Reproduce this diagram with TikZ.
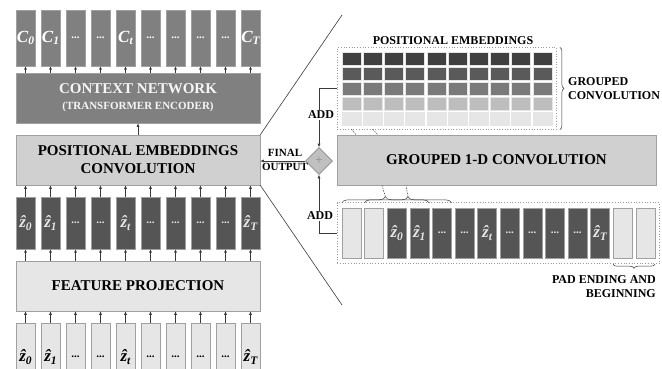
\documentclass[tikz,border=0pt]{standalone}
\usepackage{fontspec}
\setmainfont{Liberation Serif}
\usetikzlibrary{arrows.meta,decorations.pathreplacing,shapes.geometric,fit,calc}
\definecolor{cgray}{HTML}{808080}
\definecolor{dgray}{HTML}{555555}
\definecolor{lgray}{HTML}{E6E6E6}
\definecolor{mgray}{HTML}{D0D0D0}
\definecolor{edgec}{HTML}{A0A0A0}
\definecolor{linec}{HTML}{3A3A3A}
\definecolor{rowa}{HTML}{404040}
\definecolor{rowb}{HTML}{5A5A5A}
\definecolor{rowc}{HTML}{7A7A7A}
\definecolor{rowd}{HTML}{BDBDBD}
\definecolor{rowe}{HTML}{E6E6E6}
\definecolor{diafill}{HTML}{C0C0C0}
\definecolor{diaedge}{HTML}{8A8A8A}
\definecolor{dotc}{HTML}{9A9A9A}
\newcommand\lab[2]{{\bfseries\itshape\fontsize{17}{17}\selectfont #1\raisebox{-0.35ex}{\fontsize{11.5}{11.5}\selectfont #2}}}
\newcommand\zlab[1]{{\bfseries\itshape\fontsize{17}{17}\selectfont \^{z}\raisebox{-0.35ex}{\fontsize{11.5}{11.5}\selectfont #1}}}
\newcommand\dts{{\bfseries\fontsize{11}{11}\selectfont ...}}
\begin{document}
\begin{tikzpicture}[x=1pt,y=-1pt,
  arr/.style={draw=linec, line width=0.6pt, -{Latex[length=3.5pt,width=3pt]}},
  bigbox/.style={draw=edgec, line width=0.6pt, minimum width=244pt, minimum height=50pt, inner sep=0pt, align=center, font=\bfseries\fontsize{15}{18}\selectfont},
  cellc/.style={draw=edgec, fill=cgray, minimum width=19pt, minimum height=56pt, inner sep=0pt, text=white},
  celld/.style={draw=edgec, fill=dgray, minimum width=19pt, minimum height=52pt, inner sep=0pt, text=lgray},
  celll/.style={draw=edgec, fill=lgray, minimum width=19pt, minimum height=68pt, inner sep=0pt, text=black},
  gcell/.style={draw=white!80!gray, line width=0.5pt, fill=#1, minimum width=19pt, minimum height=13pt, inner sep=0pt},
  scell/.style={draw=edgec, line width=0.4pt, fill=#1, minimum width=19pt, minimum height=50pt, inner sep=0pt},
  dotbox/.style={draw=dotc, dotted, line width=0.7pt, inner sep=0pt},
  lbl/.style={font=\bfseries\fontsize{12}{14}\selectfont, inner sep=1pt},
  brc/.style={draw=linec, line width=0.5pt, decorate, decoration={brace, amplitude=4pt}},
  dsh/.style={draw=linec, line width=0.5pt, dash pattern=on 1.5pt off 1.2pt}
]
\useasboundingbox (0,0) rectangle (662,368);
\fill[white] (0,0) rectangle (662,368);

% ---------- left column ----------
\node[bigbox, fill=cgray, text=white!92!gray] (ctx) at (138,98) {CONTEXT NETWORK\\[-2pt]{\fontsize{11}{13}\selectfont (TRANSFORMER ENCODER)}};
\node[bigbox, fill=mgray] (pe) at (138,160) {POSITIONAL EMBEDDINGS\\CONVOLUTION};
\node[bigbox, fill=lgray] (fp) at (138,286) {FEATURE PROJECTION};
\draw[arr] (pe.north) -- (ctx.south);

\foreach \k/\t in {0/{\lab{C}{0}},1/{\lab{C}{1}},2/\dts,3/\dts,4/{\lab{C}{t}},5/\dts,6/\dts,7/\dts,8/\dts,9/{\lab{C}{T}}}{
  \node[cellc] (c\k) at (25.5+25*\k,38) {\t};
  \draw[arr] (ctx.north -| c\k.south) -- (c\k.south);
}
\foreach \k/\t in {0/{\zlab{0}},1/{\zlab{1}},2/\dts,3/\dts,4/{\zlab{t}},5/\dts,6/\dts,7/\dts,8/\dts,9/{\zlab{T}}}{
  \node[celld] (zd\k) at (25.5+25*\k,223) {\t};
  \draw[arr] (zd\k.north) -- (pe.south -| zd\k.north);
  \draw[arr] (fp.north -| zd\k.south) -- (zd\k.south);
}
\foreach \k/\t in {0/{\zlab{0}},1/{\zlab{1}},2/\dts,3/\dts,4/{\zlab{t}},5/\dts,6/\dts,7/\dts,8/\dts,9/{\zlab{T}}}{
  \node[celll] (zl\k) at (25.5+25*\k,357) {\t};
  \draw[arr] (zl\k.north) -- (fp.south -| zl\k.north);
}

% ---------- zoom lines ----------
\coordinate (dtop) at (342,15);
\coordinate (dbot) at (342,305);
\draw[linec, line width=0.6pt] (pe.north east) -- (dtop);
\draw[linec, line width=0.6pt] (pe.south east) -- (dbot);

% ---------- positional embeddings grid ----------
\foreach \r/\col in {0/rowa,1/rowb,2/rowc,3/rowd,4/rowe}{
  \foreach \k in {0,...,9}{
    \node[gcell=\col] (g\r-\k) at (351.5+21.2*\k,58.5+15*\r) {};
  }
}
\node[dotbox, fit=(g0-0)(g4-9), inner xsep=4.5pt, inner ysep=4pt] (pebox) {};
\node[lbl] (pelab) at (453,41) {POSITIONAL EMBEDDINGS};
\draw[brc] ($(pebox.north east)+(3,0)$) coordinate (bra) -- ($(pebox.south east)+(3,0)$) coordinate (brb);
\node[lbl, anchor=west, align=left] (gclab) at (567,89) {GROUPED\\CONVOLUTION};

% ---------- grouped conv ----------
\node[draw=edgec, fill=mgray, line width=0.6pt, minimum width=319pt, minimum height=50pt, inner sep=0pt, font=\bfseries\fontsize{15}{18}\selectfont] (gconv) at (496.5,160) {GROUPED 1-D CONVOLUTION};
\coordinate (xa) at (356,0);
\coordinate (xb) at (378,0);
\coordinate (xc) at (382,0);
\coordinate (xd) at (406,0);
\draw[dsh] ($(g4-0.south)+(0,4)$) -- (gconv.north -| xa);
\draw[dsh] ($(g4-1.south)+(0,4)$) -- (gconv.north -| xb);

% ---------- padded sequence ----------
\foreach \k/\t/\f in {0/{}/lgray,1/{}/lgray,2/{\zlab{0}}/dgray,3/{\zlab{1}}/dgray,4/\dts/dgray,5/\dts/dgray,6/{\zlab{t}}/dgray,7/\dts/dgray,8/\dts/dgray,9/\dts/dgray,10/\dts/dgray,11/{\zlab{T}}/dgray,12/{}/lgray,13/{}/lgray}{
  \node[scell=\f, text=lgray] (s\k) at (351.5+22.6*\k,233) {\t};
}
\node[dotbox, fit=(s0)(s13), inner xsep=4.5pt, inner ysep=5pt] (seqbox) {};
\draw[brc, decoration={brace, amplitude=6pt}] ($(s0.north west)+(0,-5)$) coordinate (b1a) -- ($(s3.north east)+(0,-5)$) coordinate (b1b);
\draw[brc, decoration={brace, amplitude=6pt}] ($(s1.north west)+(0,-5)$) coordinate (b2a) -- ($(s4.north east)+(0,-5)$) coordinate (b2b);
\draw[dsh] ($(b1a)!0.5!(b1b)+(0,-6)$) -- (gconv.south -| xc);
\draw[dsh] ($(b2a)!0.5!(b2b)+(0,-6)$) -- (gconv.south -| xd);
\draw[brc] ($(s13.south east)+(0,6)$) coordinate (pba) -- ($(s12.south west)+(0,6)$) coordinate (pbb);
\node[lbl, anchor=north east, align=right] (padlab) at (657,274) {PAD ENDING AND\\BEGINNING};

% ---------- adder ----------
\node[draw=diaedge, fill=diafill, line width=0.6pt, diamond, minimum width=27pt, minimum height=27pt, inner sep=0pt, text=diaedge, font=\fontsize{13}{13}\selectfont] (dia) at (319,161) {+};
\draw[arr] (pebox.west) -| (dia.north);
\draw[arr] (seqbox.west) -| (dia.south);
\draw[arr] (dia.west) -- (pe.east |- dia.west);
\node[lbl, fill=white] (add1) at (321,115) {ADD};
\node[lbl, fill=white] (add2) at (320,216) {ADD};
\node[font=\bfseries\fontsize{11}{12}\selectfont, align=center, inner sep=0pt] (fo) at (285,160) {FINAL\\[2pt]OUTPUT};
\end{tikzpicture}
\end{document}
